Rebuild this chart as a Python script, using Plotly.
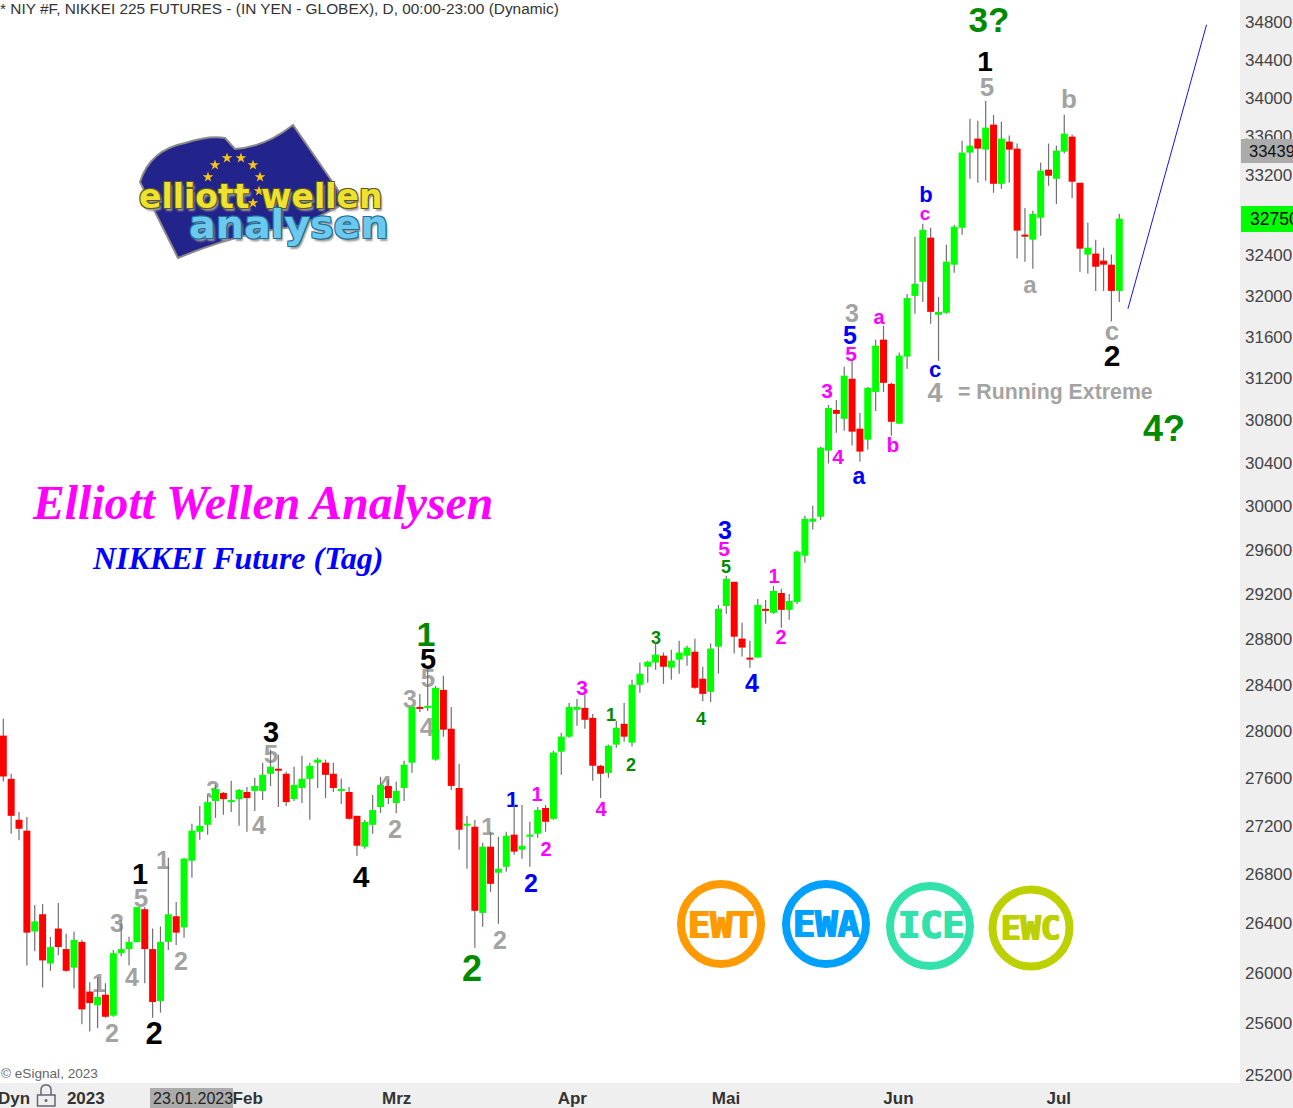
import math
import plotly.graph_objects as go

opens = [27962,27594,27250,27159,26332,26472,26075,26356,26191,26042,26249,25852,25744,25827,25662,26158,26191,26246,26513,26191,25777,26249,26456,26365,26910,27150,27208,27407,27475,27398,27423,27483,27492,27492,27637,27680,
27637,27424,27517,27594,27731,27731,27637,27492,27483,27283,27026,27208,27357,27534,27390,27517,27731,28209,28201,27757,28357,28021,27517,27200,27192,26483,27026,26811,26860,27126,27001,27109,27134,27349,
27258,27825,27953,28184,28201,28115,27705,27645,27885,28064,27902,28401,28559,28595,28656,28551,28621,28656,28691,28454,28340,28735,29096,29312,28806,28639,28639,29070,29035,29212,29061,
29131,29548,29857,29903,30515,30898,30814,31195,30721,30618,31069,31571,31146,30768,31407,31997,32136,32574,31812,31832,32305,
32673,33434,33578,33465,33722,33116,33547,33475,32604,32554,32773,33260,33167,33444,33598,33126,32405,32415,32345,32305,32046]
highs = [28107,27637,27316,27274,26547,26555,26290,26563,26315,26332,26265,25926,25968,25918,26183,26423,26290,26530,26530,26356,26373,26935,26571,26935,27216,27365,27458,27543,27483,27577,27509,27526,27603,27731,27842,27799,
27654,27697,27791,27731,27774,27757,27731,27594,27526,27283,27250,27458,27611,27586,27569,27748,28209,28322,28533,28392,28480,28209,27722,27283,27250,27059,27150,27109,27150,27374,27374,27233,27357,27374,
27834,27987,28243,28278,28313,28149,27714,27885,28090,28243,28445,28595,28612,28771,28683,28709,28788,28744,28806,28559,28762,29105,29367,29312,28947,28788,29158,29149,29276,29249,29203,
29594,29912,30003,30552,30945,30992,31310,31378,30870,31117,31571,31706,31156,31446,32017,32584,32713,32673,31987,32504,32703,
33557,33783,33763,33968,33824,33752,33609,33527,32872,32843,33332,33527,33506,33824,33619,33126,32723,32554,32474,32405,32813]
lows = [27571,27134,27079,26059,26174,25885,26017,26141,26009,25877,25595,25538,25562,25645,25653,26133,26059,26246,25918,25645,25686,26183,26224,26282,26770,27084,27126,27266,27291,27316,27200,27150,27324,27415,27534,27357,
27365,27407,27390,27250,27517,27432,27483,27382,27250,26951,27009,27134,27307,27382,27307,27407,27646,28166,28175,27748,27953,27500,27001,26844,26202,26371,26654,26395,26819,26960,26927,26860,27101,27150,
27250,27628,27944,28047,28021,27577,27432,27603,27859,27910,27868,28331,28419,28533,28410,28445,28498,28568,28366,28261,28252,28498,29026,28674,28648,28551,28639,28938,29026,28903,28973,
29114,29485,29785,29875,30394,30683,30702,30562,30412,30525,30889,31069,30655,30768,31291,31822,31938,31726,31366,31822,32226,
32604,33167,33126,33147,33024,33065,33126,32365,32335,32265,32594,33096,32912,33424,32972,32236,32216,32046,32046,31748,31937]
closes = [27614,27283,27175,26323,26414,26100,26207,26207,26017,26265,25711,25761,25810,25653,26158,26191,26249,26530,26191,25769,26249,26472,26323,26927,27159,27200,27398,27509,27423,27415,27500,27432,27534,27628,27697,27663,
27398,27543,27594,27705,27757,27628,27517,27509,27258,27034,27233,27332,27543,27432,27492,27714,28209,28192,28218,28375,28013,27534,27167,27217,26500,27026,26720,26844,27117,26985,27034,27126,27332,27233,
27817,27953,28209,28209,28098,27705,27637,27876,28030,27953,28401,28498,28603,28665,28559,28612,28683,28727,28375,28322,28718,29070,29340,28823,28727,28621,29105,29052,29230,29061,29140,
29585,29884,29884,30543,30917,30861,31224,30693,30506,31108,31513,31156,30786,31417,31976,32116,32653,31841,31841,32335,32683,
33434,33506,33475,33691,33116,33578,33465,32644,32584,32813,33250,33198,33455,33629,33137,32464,32474,32285,32305,32046,32763]

y_ticks = [34800,34400,34000,33600,33200,32800,32400,32000,31600,31200,30800,30400,30000,29600,29200,
           28800,28400,28000,27600,27200,26800,26400,26000,25600,25200]
month_labels = ["2023","Feb","Mrz","Apr","Mai","Jun","Jul"]
month_pos = [10.5,31.1,50.05,72.4,91.95,113.9,134.3]
forecast_x = [143.1,153.1]
forecast_y = [31870,34770]
last_price = "32750"
ref_price = "33439"

W,H = 1293,1108
PW,PH = 1240,1083
def fx(x): return x/PW
def fy(y): return 1-y/PH
def idx(x): return (x-3.3)/7.859
def price(y): return 34800*math.exp(-(y-22)/3262)

GR,MA,BL,GN,BK = "#A3A3A3","#FF00FF","#0000FF","#008A00","#000000"
wave = [("3?",GN,35,989,21),("1",BK,28,985,62),("5",GR,26,987,87),("b",GR,26,1069,99),("c",GR,26,1112,331),
("2",BK,30,1112,356),("4",GR,27,935,393),("4?",GN,36,1164,430),("b",BL,22,926,194),("c",MA,19,925,213),
("c",BL,22,935,369),("a",GR,24,1030,285),("a",MA,20,879,317),("3",GR,25,852,314),("5",BL,25,850,336),
("5",MA,21,851,354),("3",MA,21,827,391),("4",MA,21,838,457),("a",BL,23,859,476),("b",MA,21,893,445),
("3",BL,25,725,531),("5",MA,21,724,549),("5",GN,18,726,566),("1",MA,20,774,576),("2",MA,20,781,637),
("4",BL,25,752,684),("3",GN,18,656,637),("4",GN,18,701,718),("3",MA,21,582,688),("1",GN,18,611,714),
("2",GN,18,631,764),("4",MA,20,601,809),("1",MA,20,537,794),("2",MA,20,546,849),("1",BL,22,512,799),
("2",BL,25,531,884),("1",GR,24,488,827),("2",GR,25,500,941),("2",GN,36,472,970),("1",GN,34,426,635),
("5",BK,29,428,660),("5",GR,26,428,678),("3",GR,25,410,700),("4",GR,26,427,727),("4",GR,24,385,785),
("2",GR,25,395,830),("4",BK,30,361,877),("3",BK,29,271,733),("5",GR,26,271,754),("3",GR,24,213,790),
("4",GR,25,259,826),("1",GR,25,163,861),("2",GR,25,181,962),("1",BK,29,140,875),("5",GR,26,141,898),
("3",GR,25,117,924),("4",GR,25,132,978),("1",GR,25,99,984),("2",GR,25,112,1034),("2",BK,31,154,1034)]
stars = [(227,158),(241,158),(253,165),(260,177),(215,165),(208,177),(259,191),(253,203)]

xs = list(range(len(opens)))
fig = go.Figure()
fig.add_trace(go.Scatter(x=[idx(s[0]) for s in stars], y=[price(s[1]) for s in stars], mode="markers",
    marker=dict(symbol="star",size=8,color="#F5C518",line=dict(width=0)),hoverinfo="skip",showlegend=False))
fig.add_trace(go.Scatter(x=[idx(w[3]) for w in wave], y=[price(w[4]+2) for w in wave], mode="text",
    text=[w[0] for w in wave], textposition="middle center", hoverinfo="skip", showlegend=False,
    textfont=dict(family="Liberation Sans", size=[w[2] for w in wave], color=[w[1] for w in wave], weight="bold")))

def seg(pairs):
    X,Y=[],[]
    for x,a,b in pairs:
        X+=[x,x,None]; Y+=[a,b,None]
    return X,Y
wx,wy = seg([(i,lows[i],highs[i]) for i in xs])
fig.add_trace(go.Scatter(x=wx,y=wy,mode="lines",line=dict(color="#707070",width=1.2),showlegend=False,hoverinfo="skip"))
rx,ry = seg([(i,opens[i],closes[i]) for i in xs if closes[i]<opens[i]])
gx,gy = seg([(i,opens[i],closes[i]) for i in xs if closes[i]>=opens[i]])
fig.add_trace(go.Scatter(x=rx,y=ry,mode="lines",line=dict(color="#FF0000",width=7),showlegend=False,hoverinfo="skip"))
fig.add_trace(go.Scatter(x=gx,y=gy,mode="lines",line=dict(color="#00FF00",width=7),showlegend=False,hoverinfo="skip"))
fig.add_trace(go.Scatter(x=forecast_x,y=forecast_y,mode="lines",line=dict(color="#1414E6",width=1),showlegend=False,hoverinfo="skip"))

ann=[]
def T(text,x,y,size,color,family="Liberation Sans",xa="left",ya="middle",**kw):
    ann.append(dict(text=text,x=fx(x),y=fy(y),xref="paper",yref="paper",showarrow=False,xanchor=xa,yanchor=ya,
                    align="left",borderpad=0,font=dict(family=family,size=size,color=color,**kw)))
T("* NIY #F, NIKKEI 225 FUTURES - (IN YEN - GLOBEX), D, 00:00-23:00 (Dynamic)",-1,8,15.4,"#333333")
T("© eSignal, 2023",0,1073,13.6,"#666666")
T("<b><i>Elliott Wellen Analysen</i></b>",31,502,47.7,"#FF00FF",family="Liberation Serif")
T("<b><i>NIKKEI Future (Tag)</i></b>",91,558,32,"#0000FF",family="Liberation Serif")
T("<b>= Running Extreme</b>",957,392,21.3,"#A3A3A3")
T("<b>Dyn</b>",-3,1098,17,"#333333")
T("23.01.2023",152,1098,16,"#222222")
T(ref_price,1248,151,16.5,"#111111")
T(last_price,1249,219,17.5,"#000000")

shadow="-1px -1px 0 #5a5a20,1px -1px 0 #5a5a20,-1px 1px 0 #5a5a20,1px 1px 0 #5a5a20,2px 3px 2px #999"
shadow2="-1px -1px 0 #1d6f98,1px -1px 0 #1d6f98,-1px 1px 0 #1d6f98,1px 1px 0 #1d6f98,2px 3px 2px #999"
T("<b>elliott wellen</b>",138,196,33,"#F0E030",family="DejaVu Sans",shadow=shadow)
T("<b>analysen</b>",188,224,39.6,"#6CC8EC",family="DejaVu Sans",shadow=shadow2)

shapes=[]
def path(cmds):
    out=[]
    for c in cmds:
        out.append(c[0]+" "+" ".join(f"{fx(c[i]):.5f},{fy(c[i+1]):.5f}" for i in range(1,len(c),2)))
    return " ".join(out)+" Z"
flag=[("M",140,182),("Q",150,150,185,143),("Q",210,135,225,138),("L",235,149),("Q",265,147,293,125),
      ("L",338,190),("L",340,206),("L",300,226),("Q",240,232,178,258),("L",140,182)]
shapes.append(dict(type="path",xref="paper",yref="paper",path=path(flag),fillcolor="#23238C",line=dict(color="#8A8A8A",width=2),layer="below"))

for cx,cy,r,c in [(721,924,40,"#FF9A00"),(826,924,40,"#00A0FF"),(930,926,40,"#33E2AA"),(1031,928,38.5,"#BDD000")]:
    shapes.append(dict(type="circle",xref="paper",yref="paper",x0=fx(cx-r),x1=fx(cx+r),y0=fy(cy+r),y1=fy(cy-r),
                       line=dict(color=c,width=8),fillcolor="rgba(0,0,0,0)"))
for t,cx,cy,s,c in [("EWT",721,925,37,"#FF9A00"),("EWA",826,924,37,"#00A0FF"),("ICE",931,925,37,"#33E2AA"),("EWC",1031,928,33,"#BDD000")]:
    T(f"<b>{t}</b>",cx,cy,s,c,family="DejaVu Sans Mono",xa="center",shadow=f"1px 0 0 {c},-1px 0 0 {c}")

for x0,y0,x1,y1,c in [(1241,139,1293,163,"#ABABAB"),(1241,206,1293,232,"#00FF00"),(150,1088,233,1108,"#ABABAB")]:
    shapes.append(dict(type="rect",xref="paper",yref="paper",x0=fx(x0),x1=fx(x1),y0=fy(y1),y1=fy(y0),fillcolor=c,line=dict(width=0),layer="above"))
shapes.append(dict(type="rect",xref="paper",yref="paper",x0=fx(37.5),x1=fx(55),y0=fy(1106),y1=fy(1095),fillcolor="rgba(0,0,0,0)",line=dict(color="#666677",width=1.5),layer="above"))
shapes.append(dict(type="path",xref="paper",yref="paper",
    path=f"M {fx(41)},{fy(1095)} L {fx(41)},{fy(1090)} Q {fx(41)},{fy(1085)} {fx(46)},{fy(1085)} Q {fx(51)},{fy(1085)} {fx(51)},{fy(1090)} L {fx(51)},{fy(1095)}",
    line=dict(color="#666677",width=1.5),layer="above"))
shapes.append(dict(type="circle",xref="paper",yref="paper",x0=fx(44.5),x1=fx(47.5),y0=fy(1102),y1=fy(1099),fillcolor="#666677",line=dict(width=0),layer="above"))

fig.update_layout(width=W,height=H,margin=dict(l=0,r=W-PW,t=0,b=H-PH),autosize=False,
    paper_bgcolor="#EFEFEF",plot_bgcolor="#FFFFFF",showlegend=False,shapes=shapes,annotations=ann,
    xaxis=dict(range=[idx(0),idx(PW)],showgrid=False,zeroline=False,showline=False,tickmode="array",
               tickvals=month_pos,ticktext=month_labels,ticks="",ticklabelstandoff=3,
               tickfont=dict(family="Liberation Sans",size=17,color="#333333",weight="bold"),tickangle=0),
    yaxis=dict(type="log",range=[math.log10(price(PH)),math.log10(price(0))],side="right",showgrid=False,zeroline=False,showline=False,
               tickmode="array",tickvals=y_ticks,ticktext=[str(v) for v in y_ticks],ticks="",ticklabelstandoff=4,
               tickfont=dict(family="Liberation Sans",size=17,color="#444444")))
fig.write_html("out.html",config={"displayModeBar":False},post_script="document.body.style.margin='0';document.body.style.overflow='hidden';")
